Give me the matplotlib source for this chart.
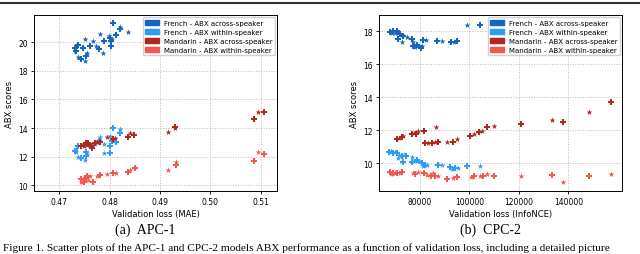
import matplotlib
matplotlib.use("Agg")
import matplotlib.pyplot as plt
from matplotlib.patches import Patch
from matplotlib.lines import Line2D

# ---------------- APC-1 data (validation loss MAE, ABX score) ----------------
apc_fr_across_x = [0.4806, 0.482, 0.482, 0.4836, 0.4812, 0.4799, 0.4800, 0.4804, 0.4802, 0.4781,
                   0.4788, 0.4767, 0.4762, 0.4772, 0.4778, 0.4787, 0.4802, 0.4751, 0.4737, 0.4734,
                   0.4732, 0.4732, 0.4748, 0.4756, 0.4754, 0.4738, 0.4744, 0.4752, 0.4733]
apc_fr_across_y = [21.35, 21.05, 20.9, 20.7, 20.5, 20.4, 20.3, 20.2, 20.05, 20.6,
                   20.1, 20.1, 19.7, 19.75, 19.5, 19.25, 19.7, 20.2, 19.8, 19.7,
                   19.6, 19.35, 19.6, 19.25, 19.05, 18.95, 18.85, 18.7, 19.4]

apc_fr_within_x = [0.4806, 0.482, 0.482, 0.4781, 0.4779, 0.4800, 0.4804, 0.4810, 0.4813, 0.4788,
                   0.4800, 0.4771, 0.4761, 0.4751, 0.4738, 0.4733, 0.4731, 0.4734, 0.4753, 0.4756,
                   0.4753, 0.4738, 0.4744, 0.4751, 0.4800, 0.4788, 0.4758, 0.4766]
apc_fr_within_y = [14.03, 13.9, 13.66, 13.35, 13.12, 13.43, 13.12, 13.25, 13.05, 12.9,
                   12.77, 12.9, 12.77, 12.96, 12.77, 12.54, 12.42, 12.35, 12.35, 12.17,
                   12.03, 11.96, 11.9, 11.75, 12.26, 12.26, 12.9, 12.85]

apc_ma_across_x = [0.4744, 0.4748, 0.4753, 0.4756, 0.4758, 0.4761, 0.4764, 0.4750, 0.4780, 0.4774,
                   0.4766, 0.4779, 0.4771, 0.4795, 0.4807, 0.4810, 0.4837, 0.4840, 0.4848, 0.4916,
                   0.4930, 0.4930, 0.5086, 0.5095, 0.5107]
apc_ma_across_y = [12.77, 12.9, 12.94, 12.82, 12.96, 12.84, 12.73, 12.73, 13.0, 13.05,
                   12.6, 13.05, 12.96, 13.35, 13.25, 13.3, 13.35, 13.65, 13.5, 13.75,
                   14.1, 14.0, 14.65, 15.1, 15.1]

apc_ma_within_x = [0.4744, 0.4748, 0.4756, 0.4761, 0.4753, 0.4743, 0.4750, 0.4757, 0.4767, 0.4774,
                   0.4781, 0.4795, 0.4806, 0.4813, 0.4837, 0.4841, 0.4850, 0.4916, 0.4931, 0.4931,
                   0.5087, 0.5095, 0.5107]
apc_ma_within_y = [10.44, 10.33, 10.68, 10.68, 10.54, 10.2, 10.26, 10.4, 10.26, 10.68,
                   10.75, 10.77, 10.86, 10.86, 10.9, 11.1, 11.2, 11.1, 11.45, 11.65,
                   11.72, 12.35, 12.2]

# ---------------- CPC-2 data (validation loss InfoNCE, ABX score) ----------------
cpc_fr_across_x = [67870, 68540, 69210, 69890, 70560, 71230, 71910, 72580, 73260, 74880,
                   76630, 77040, 77300, 77980, 78920, 79730, 80270, 80810, 81350, 82430,
                   71230, 72710, 87010, 88760, 92400, 93750, 95100, 98870, 104260]
cpc_fr_across_y = [17.98, 17.9, 18.0, 17.88, 18.04, 17.9, 17.84, 17.78, 17.7, 17.64,
                   17.53, 17.37, 17.13, 17.03, 17.17, 17.09, 16.97, 17.13, 17.49, 17.49,
                   17.57, 17.37, 17.39, 17.41, 17.37, 17.37, 17.39, 18.4, 18.4]

cpc_fr_within_x = [67600, 68140, 68940, 69890, 70830, 71640, 72580, 73530, 74340, 71230,
                   72980, 76770, 76630, 77570, 78650, 79730, 80670, 81350, 82020, 82700,
                   87400, 88760, 92130, 92800, 94150, 95500, 98870, 104260]
cpc_fr_within_y = [10.65, 10.75, 10.6, 10.68, 10.6, 10.49, 10.45, 10.49, 10.41, 10.28,
                   10.08, 10.34, 10.08, 10.14, 10.18, 10.1, 10.0, 9.84, 9.88, 9.88,
                   9.9, 9.88, 9.74, 9.64, 9.68, 9.68, 9.84, 9.84]

cpc_ma_across_x = [70830, 71640, 72580, 73260, 76630, 77570, 78380, 79320, 81620, 86470,
                   82020, 83370, 84720, 86070, 87400, 90780, 93210, 94830, 100220, 101840,
                   104000, 104940, 107230, 109920, 120700, 133240, 137690, 148340, 157100]
cpc_ma_across_y = [11.46, 11.5, 11.56, 11.62, 11.76, 11.82, 11.76, 11.92, 11.96, 12.17,
                   11.2, 11.22, 11.22, 11.26, 11.3, 11.3, 11.3, 11.46, 11.66, 11.74,
                   11.86, 11.96, 12.17, 12.27, 12.39, 12.63, 12.47, 13.08, 13.69]

cpc_ma_within_x = [67870, 68140, 68940, 69890, 70830, 71910, 72580, 77040, 77980, 79320,
                   81620, 82700, 84310, 85120, 86070, 87400, 90780, 93210, 94830, 100490,
                   101840, 104260, 105600, 107230, 109920, 120700, 133240, 137690, 148340, 157100]
cpc_ma_within_y = [9.44, 9.34, 9.4, 9.38, 9.4, 9.4, 9.44, 9.4, 9.34, 9.44,
                   9.4, 9.28, 9.24, 9.38, 9.24, 9.24, 9.03, 9.07, 9.13, 9.13,
                   9.19, 9.19, 9.24, 9.34, 9.19, 9.24, 9.28, 8.87, 9.24, 9.34]

series_labels = ["French - ABX across-speaker", "French - ABX within-speaker",
                 "Mandarin - ABX across-speaker", "Mandarin - ABX within-speaker"]
colors = ["#1565c0", "#2f9df4", "#b3261e", "#f6574e"]

W, H = 640, 255
fig = plt.figure(figsize=(W / 100, H / 100), dpi=100)


def add_ax(l, t, r, b):
    return fig.add_axes([l / W, 1 - b / H, (r - l) / W, (b - t) / H])


def draw(ax, series, xlim, ylim, xticks, yticks, xlabel, xtl=None):
    for (xs, ys), c in zip(series, colors):
        ax.scatter(xs[0::2], ys[0::2], marker="P", s=14, color=c, linewidths=0, zorder=3)
        ax.scatter(xs[1::2], ys[1::2], marker="*", s=20, color=c, linewidths=0, zorder=3)
    ax.set_xlim(*xlim)
    ax.set_ylim(*ylim)
    ax.set_xticks(xticks)
    if xtl is not None:
        ax.set_xticklabels(xtl)
    ax.set_yticks(yticks)
    ax.grid(True, linestyle=":", color="#bbbbbb", linewidth=0.7)
    ax.set_axisbelow(True)
    ax.tick_params(labelsize=5.5, length=2.5, width=0.6, pad=2)
    for s in ax.spines.values():
        s.set_linewidth(0.7)
    ax.set_xlabel(xlabel, fontsize=6, labelpad=2)
    ax.set_ylabel("ABX scores", fontsize=6, labelpad=3)
    handles = [Patch(facecolor=c, edgecolor=c) for c in colors]
    ax.legend(handles, series_labels, loc="upper right", fontsize=5.0,
              handlelength=2.0, handleheight=0.75, handletextpad=0.6,
              borderpad=0.35, labelspacing=0.42, borderaxespad=0.35,
              framealpha=0.9, edgecolor="#cccccc", fancybox=True)


ax1 = add_ax(34, 16, 277, 192)
draw(ax1,
     [(apc_fr_across_x, apc_fr_across_y), (apc_fr_within_x, apc_fr_within_y),
      (apc_ma_across_x, apc_ma_across_y), (apc_ma_within_x, apc_ma_within_y)],
     (0.465, 0.5132), (9.6, 21.9), [0.47, 0.48, 0.49, 0.50, 0.51], [10, 12, 14, 16, 18, 20],
     "Validation loss (MAE)", ["0.47", "0.48", "0.49", "0.50", "0.51"])

ax2 = add_ax(379, 16, 622, 192)
draw(ax2,
     [(cpc_fr_across_x, cpc_fr_across_y), (cpc_fr_within_x, cpc_fr_within_y),
      (cpc_ma_across_x, cpc_ma_across_y), (cpc_ma_within_x, cpc_ma_within_y)],
     (63400, 161700), (8.3, 19.0), [80000, 100000, 120000, 140000], [10, 12, 14, 16, 18],
     "Validation loss (InfoNCE)", ["80000", "100000", "120000", "140000"])

# sub-captions and page context
fig.text(145 / W, 1 - 230 / H, "(a)  APC-1", fontsize=10, family="Liberation Serif",
         ha="center", va="center")
fig.text(490 / W, 1 - 230 / H, "(b)  CPC-2", fontsize=10, family="Liberation Serif",
         ha="center", va="center")
fig.text(3 / W, 1 - 248 / H,
         "Figure 1. Scatter plots of the APC-1 and CPC-2 models ABX performance as a function of "
         "validation loss, including a detailed picture",
         fontsize=8.1, family="Liberation Serif", ha="left", va="center")
fig.add_artist(Line2D([0, 1], [1 - 4 / H, 1 - 4 / H], color="#333333", linewidth=1.5))

fig.savefig("out.png", dpi=100)
